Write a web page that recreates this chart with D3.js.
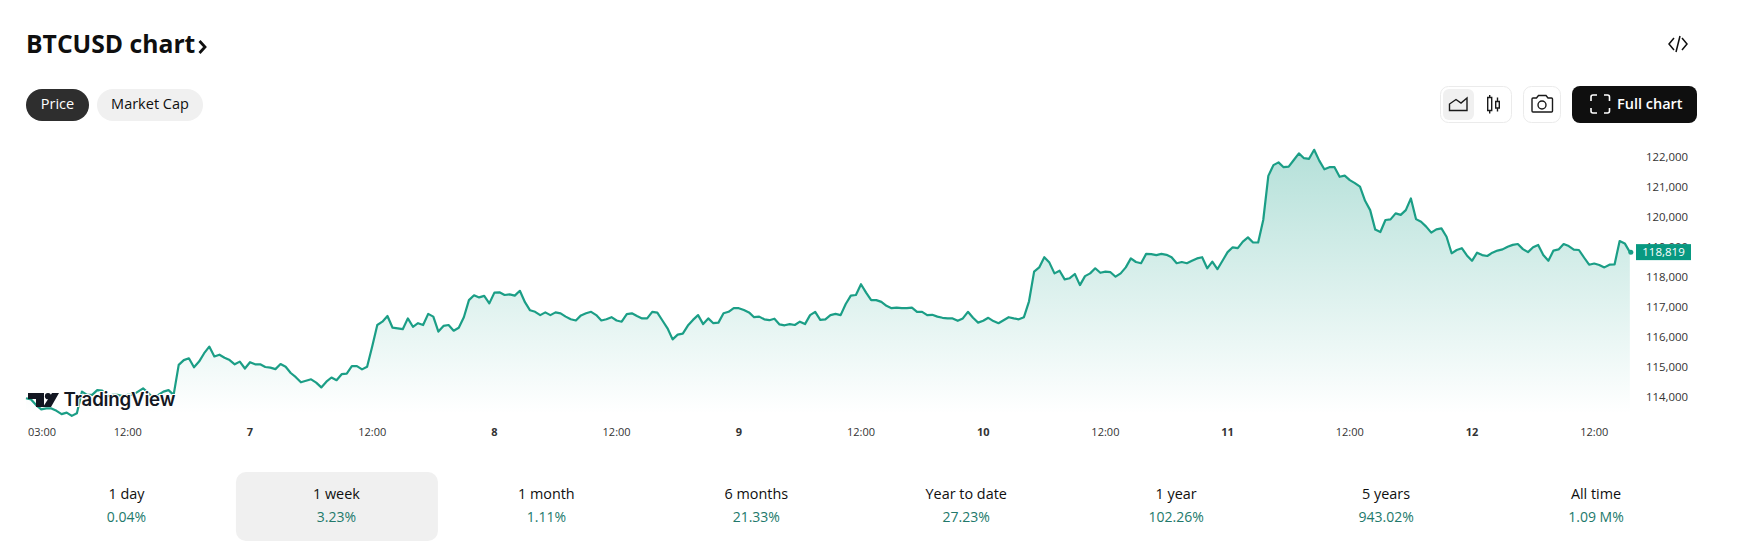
<!DOCTYPE html>
<html>
<head>
<meta charset="utf-8">
<script src="https://cdn.jsdelivr.net/npm/d3@7"></script>
<style>
  html, body { margin: 0; padding: 0; background: #fff; }
  svg { display: block; font-family: "Open Sans", sans-serif; }
</style>
</head>
<body>
<svg id="chart" width="1742" height="557"></svg>
<script>
// half hourly closes, first one at 02:00 on the 6th
const startHour = 2;
const stepHours = 0.5;
const prices = [
  113950, 113910, 113720, 113580, 113610, 113610, 113530, 113420, 113470, 113360,
  113450, 114170, 114060, 114060, 114220, 114200, 114020, 114060, 114060, 114020,
  114060, 114060, 114170, 114280, 114130, 113950, 114060, 114170, 114220, 114060,
  115060, 115220, 115280, 114980, 115170, 115450, 115670, 115340, 115400, 115300,
  115220, 115080, 115170, 114940, 115150, 115080, 115080, 114990, 114970, 114920,
  115090, 115000, 114790, 114650, 114480, 114530, 114580, 114470, 114310, 114500,
  114640, 114550, 114750, 114770, 115020, 115020, 114910, 115000, 115670, 116390,
  116500, 116690, 116300, 116280, 116250, 116610, 116330, 116450, 116390, 116760,
  116670, 116170, 116360, 116390, 116200, 116300, 116650, 117220, 117380, 117310,
  117360, 117110, 117470, 117480, 117390, 117410, 117370, 117530, 117150, 116880,
  116830, 116720, 116810, 116720, 116810, 116780, 116670, 116580, 116540, 116710,
  116780, 116830, 116720, 116540, 116580, 116650, 116540, 116500, 116750, 116780,
  116690, 116610, 116610, 116830, 116800, 116540, 116280, 115910, 116070, 116100,
  116370, 116560, 116720, 116420, 116610, 116450, 116470, 116780, 116830, 116950,
  116950, 116890, 116810, 116650, 116670, 116580, 116550, 116600, 116410, 116380,
  116420, 116390, 116500, 116420, 116720, 116830, 116560, 116580, 116720, 116760,
  116720, 117090, 117370, 117390, 117750, 117470, 117220, 117220, 117160, 117030,
  116950, 116970, 116950, 116950, 116970, 116830, 116830, 116720, 116730, 116670,
  116630, 116610, 116610, 116530, 116610, 116830, 116630, 116470, 116530, 116630,
  116520, 116450, 116550, 116650, 116610, 116580, 116650, 117180, 118170, 118310,
  118650, 118470, 118110, 118200, 117910, 117950, 118090, 117720, 118020, 118110,
  118280, 118130, 118170, 118150, 118000, 118110, 118310, 118610, 118490, 118450,
  118760, 118750, 118720, 118760, 118730, 118650, 118450, 118490, 118450, 118530,
  118610, 118650, 118280, 118500, 118250, 118530, 118820, 118980, 118950, 119170,
  119310, 119140, 119140, 119890, 121360, 121720, 121810, 121650, 121670, 121890,
  122110, 121950, 121930, 122230, 121870, 121580, 121650, 121650, 121330, 121370,
  121220, 121120, 121000, 120530, 120220, 119570, 119490, 119890, 119910, 120110,
  120060, 120220, 120610, 119920, 119830, 119670, 119470, 119580, 119610, 119330,
  118780, 118890, 118950, 118710, 118530, 118800, 118720, 118690, 118800, 118870,
  118910, 119000, 119060, 119090, 118920, 118820, 118980, 119060, 118720, 118530,
  118870, 118910, 119090, 119020, 118900, 118890, 118640, 118400, 118440, 118390,
  118310, 118400, 118410, 119190, 119110, 118819
];

const priceTicks = [114000, 115000, 116000, 117000, 118000, 119000, 120000, 121000, 122000];
const timeTicks = [3, 12, 24, 36, 48, 60, 72, 84, 96, 108, 120, 132, 144, 156];
const timeLabels = ["03:00", "12:00", "7", "12:00", "8", "12:00", "9", "12:00", "10", "12:00", "11", "12:00", "12", "12:00"];

const periods = ["1 day", "1 week", "1 month", "6 months", "Year to date", "1 year", "5 years", "All time"];
const changes = ["0.04%", "3.23%", "1.11%", "21.33%", "27.23%", "102.26%", "943.02%", "1.09 M%"];
const selectedPeriod = "1 week";

const lineColor = "#1b9e86";
const badgeColor = "#089981";

const svg = d3.select("#chart");

// scales are pinned on the tick labels of the picture
const x = d3.scaleLinear().domain([24, 144]).range([250, 1472]);
const y = d3.scaleLinear().domain([114000, 122000]).range([396.7, 156.7]);
const plotBottom = 414;

let points = prices.map(function(p, i) {
  return { hour: startHour + i * stepHours, price: p };
});

/* area + line */
let grad = svg.append("defs").append("linearGradient")
  .attr("id", "areaFill")
  .attr("gradientUnits", "userSpaceOnUse")
  .attr("x1", 0).attr("x2", 0)
  .attr("y1", y(122230)).attr("y2", plotBottom);
grad.append("stop").attr("offset", 0).attr("stop-color", "#089981").attr("stop-opacity", 0.3);
grad.append("stop").attr("offset", 1).attr("stop-color", "#089981").attr("stop-opacity", 0);

let area = d3.area()
  .x(function(d) { return x(d.hour); })
  .y0(plotBottom)
  .y1(function(d) { return y(d.price); });

let line = d3.line()
  .x(function(d) { return x(d.hour); })
  .y(function(d) { return y(d.price); });

svg.append("path").datum(points).attr("d", area).attr("fill", "url(#areaFill)");
svg.append("path").datum(points)
  .attr("d", line)
  .attr("fill", "none")
  .attr("stroke", lineColor)
  .attr("stroke-width", 2.2)
  .attr("stroke-linejoin", "round");

let last = points[points.length - 1];
svg.append("circle")
  .attr("cx", x(last.hour) + 1)
  .attr("cy", y(last.price))
  .attr("r", 2.5)
  .attr("fill", lineColor);

/* axes */
let yAxis = svg.append("g")
  .attr("transform", "translate(1646,0)")
  .call(d3.axisRight(y).tickValues(priceTicks).tickFormat(d3.format(",")).tickSize(0).tickPadding(0));
yAxis.select(".domain").remove();
yAxis.selectAll("text")
  .attr("font-family", "'Open Sans', sans-serif")
  .attr("font-size", 11.4)
  .attr("fill", "#333");

let xAxis = svg.append("g")
  .attr("transform", "translate(0,428)")
  .call(d3.axisBottom(x).tickValues(timeTicks)
    .tickFormat(function(d, i) { return timeLabels[i]; })
    .tickSize(0).tickPadding(0));
xAxis.select(".domain").remove();
xAxis.selectAll(".tick")
  .attr("transform", function(d) { return "translate(" + Math.max(x(d), 42) + ",0)"; });
xAxis.selectAll("text")
  .attr("font-family", "'Open Sans', sans-serif")
  .attr("font-size", 11)
  .attr("fill", "#333")
  .attr("font-weight", function(d, i) { return timeLabels[i].length < 3 ? 700 : 400; });

/* last price badge */
let lastPrice = prices[prices.length - 1];
svg.append("rect")
  .attr("x", 1636).attr("y", y(lastPrice) - 8)
  .attr("width", 55).attr("height", 16)
  .attr("fill", badgeColor);
svg.append("text")
  .attr("x", 1663.5).attr("y", y(lastPrice) + 4.2)
  .attr("text-anchor", "middle")
  .attr("font-size", 11.5)
  .attr("fill", "#fff")
  .text(d3.format(",")(lastPrice));

/* tradingview logo */
let logo = svg.append("g").attr("transform", "translate(28,393)");
logo.append("path")
  .attr("d", "M0 0H16V14H8V6H0Z M24 0H31L23 14H15Z")
  .attr("fill", "#131722");
logo.append("circle").attr("cx", 20).attr("cy", 3.2).attr("r", 3.1).attr("fill", "#131722");
logo.append("text")
  .attr("x", 35.5).attr("y", 13)
  .attr("font-family", "Inter, sans-serif")
  .attr("font-size", 18.7)
  .attr("font-weight", 600)
  .attr("letter-spacing", -0.2)
  .attr("fill", "#131722")
  .attr("stroke", "#fff")
  .attr("stroke-width", 2)
  .attr("paint-order", "stroke")
  .text("TradingView");

/* header */
svg.append("text")
  .attr("x", 26).attr("y", 53)
  .attr("font-size", 24.7)
  .attr("font-weight", 700)
  .attr("fill", "#0f0f0f")
  .text("BTCUSD chart");
svg.append("path")
  .attr("d", "M199.5 41L205 47L199.5 53")
  .attr("fill", "none").attr("stroke", "#0f0f0f").attr("stroke-width", 2.8);

svg.append("path")
  .attr("d", "M1674 38L1669 44L1674 50 M1682 38L1687 44L1682 50 M1680 36L1676 52")
  .attr("fill", "none").attr("stroke", "#0f0f0f").attr("stroke-width", 1.5);

function pill(px, w, fill, color, label) {
  svg.append("rect")
    .attr("x", px).attr("y", 89).attr("width", w).attr("height", 32)
    .attr("rx", 16).attr("fill", fill);
  svg.append("text")
    .attr("x", px + w / 2).attr("y", 109)
    .attr("text-anchor", "middle")
    .attr("font-size", 14.5)
    .attr("fill", color)
    .text(label);
}
pill(26, 63, "#2e2e2e", "#fff", "Price");
pill(97, 106, "#f0f0f0", "#0f0f0f", "Market Cap");

/* toolbar */
function box(bx, bw) {
  svg.append("rect")
    .attr("x", bx).attr("y", 86.5).attr("width", bw).attr("height", 36)
    .attr("rx", 8).attr("fill", "#fff").attr("stroke", "#ebebeb");
}
box(1440.5, 71);
box(1523.5, 37);
svg.append("rect")
  .attr("x", 1443).attr("y", 89).attr("width", 31).attr("height", 31)
  .attr("rx", 6).attr("fill", "#f0f0f0");

const iconStroke = { fill: "none", stroke: "#1a1a1a", "stroke-width": 1.4 };
function icon(d) {
  let p = svg.append("path").attr("d", d);
  Object.keys(iconStroke).forEach(function(k) { p.attr(k, iconStroke[k]); });
}
icon("M1449.5 110.5V104L1456 99.5L1461 103L1467 98V110.5Z");
icon("M1487.7 97.5H1491.7V110.5H1487.7Z M1489.7 95V97.5 M1489.7 110.5V113.5 M1495.7 101.5H1499.3V108H1495.7Z M1497.5 97.5V101.5 M1497.5 108V111.5");
icon("M1533 98H1536.5L1538.5 95.5H1546L1548 98H1551.5Q1552.5 98 1552.5 99V111Q1552.5 112 1551.5 112H1533Q1532 112 1532 111V99Q1532 98 1533 98Z");
svg.append("circle").attr("cx", 1542).attr("cy", 105).attr("r", 4)
  .attr("fill", "none").attr("stroke", "#1a1a1a").attr("stroke-width", 1.4);

svg.append("rect")
  .attr("x", 1572).attr("y", 86).attr("width", 125).attr("height", 37)
  .attr("rx", 8).attr("fill", "#0f0f0f");
svg.append("path")
  .attr("d", "M1591 101V97Q1591 95 1593 95H1597 M1604 95H1607.5Q1609.5 95 1609.5 97V101 M1609.5 108V111Q1609.5 113 1607.5 113H1604 M1597 113H1593Q1591 113 1591 111V108")
  .attr("fill", "none").attr("stroke", "#fff").attr("stroke-width", 1.6);
svg.append("text")
  .attr("x", 1617).attr("y", 109)
  .attr("font-size", 14.5)
  .attr("font-weight", 600)
  .attr("fill", "#fff")
  .text("Full chart");

/* performance row */
const col = d3.scaleBand().domain(periods).range([21.5, 1701]);

svg.append("rect")
  .attr("x", col(selectedPeriod) + 4.5).attr("y", 472)
  .attr("width", 202).attr("height", 69)
  .attr("rx", 10).attr("fill", "#f0f0f0");

periods.forEach(function(name, i) {
  let cx = col(name) + col.bandwidth() / 2;
  svg.append("text")
    .attr("x", cx).attr("y", 499)
    .attr("text-anchor", "middle")
    .attr("font-size", 14.4)
    .attr("fill", "#0f0f0f")
    .text(name);
  svg.append("text")
    .attr("x", cx).attr("y", 522)
    .attr("text-anchor", "middle")
    .attr("font-size", 14)
    .attr("fill", "#22796b")
    .text(changes[i]);
});
</script>
</body>
</html>
